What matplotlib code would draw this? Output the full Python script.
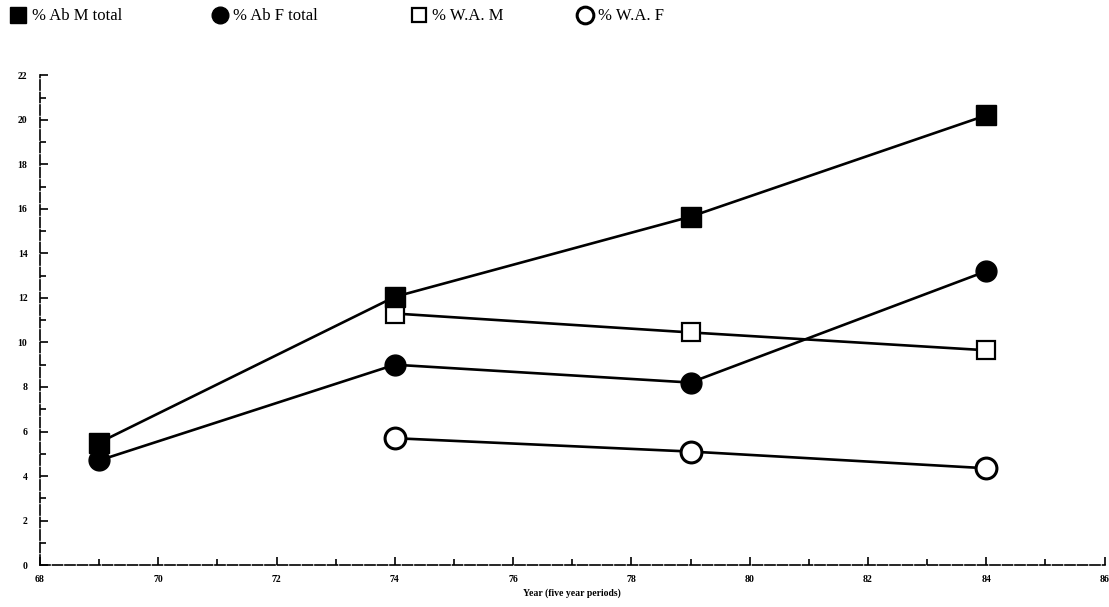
import numpy as np
import matplotlib.pyplot as plt
from matplotlib.ticker import MultipleLocator

plt.rcParams['font.family'] = ['Liberation Serif', 'DejaVu Serif']

# data
years_ab = [69, 74, 79, 84]
ab_m_total = [5.5, 12.05, 15.65, 20.2]
ab_f_total = [4.7, 9.0, 8.2, 13.2]

years_wa = [74, 79, 84]
wa_m = [11.3, 10.45, 9.65]
wa_f = [5.7, 5.1, 4.35]

labels = ['% Ab M total', '% Ab F total', '% W.A. M', '% W.A. F']

fig = plt.figure(figsize=(11.09, 6.07), dpi=100)
ax = fig.add_axes([0.036, 0.069, 0.96, 0.807])

ms = 14
lw = 1.9
l1, = ax.plot(years_ab, ab_m_total, color='black', lw=lw, marker='s', ms=ms,
              mfc='black', mec='black', zorder=3)
l2, = ax.plot(years_ab, ab_f_total, color='black', lw=lw, marker='o', ms=ms + 1,
              mfc='black', mec='black', zorder=3)
l3, = ax.plot(years_wa, wa_m, color='black', lw=lw, marker='s', ms=ms - 1,
              mfc='white', mec='black', mew=1.6, zorder=2)
l4, = ax.plot(years_wa, wa_f, color='black', lw=lw, marker='o', ms=ms + 1,
              mfc='white', mec='black', mew=2.2, zorder=3)

ax.set_xlim(68, 86)
ax.set_ylim(0, 22)
ax.xaxis.set_major_locator(MultipleLocator(2))
ax.xaxis.set_minor_locator(MultipleLocator(1))
ax.yaxis.set_major_locator(MultipleLocator(2))
ax.yaxis.set_minor_locator(MultipleLocator(1))
ax.tick_params(which='both', direction='in', width=1.2)
ax.tick_params(which='major', length=6, labelsize=7)
ax.tick_params(which='minor', length=4)
ax.tick_params(axis='y', pad=9)
ax.tick_params(axis='x', pad=7)
for lab in ax.get_xticklabels() + ax.get_yticklabels():
    lab.set_fontweight('bold')

for s in ['top', 'right']:
    ax.spines[s].set_visible(False)
for s in ['left', 'bottom']:
    ax.spines[s].set_linewidth(1.2)
    ax.spines[s].set_linestyle((0, (6, 1.5)))

ax.set_xlabel('Year (five year periods)', fontsize=7, fontweight='bold', labelpad=3)

# one legend per entry so each sits where it does in the scan
leg_x = [0.009, 0.191, 0.370, 0.520]
for h, lab, x0 in zip([l1, l2, l3, l4], labels, leg_x):
    leg = fig.legend([h], [lab], loc='upper left', bbox_to_anchor=(x0, 0.986),
                     frameon=False, fontsize=12, handlelength=1.0, handletextpad=0.3,
                     borderpad=0, borderaxespad=0, markerscale=0.8)
    for lh in leg.legend_handles:
        lh.set_linestyle('None')

fig.savefig('out.png', dpi=100)
